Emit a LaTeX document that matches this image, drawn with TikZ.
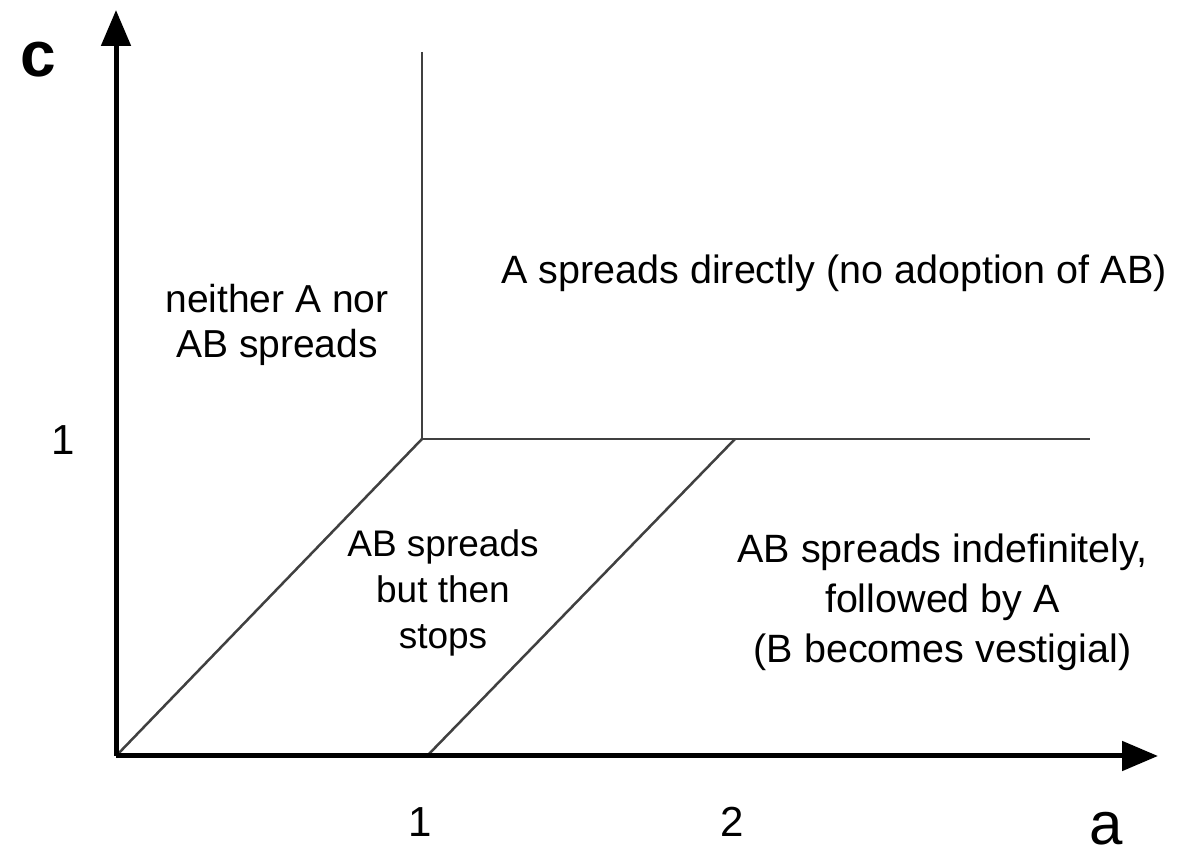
\documentclass[tikz,border=0pt]{standalone}
\usepackage{fontspec}
\setmainfont{Liberation Sans}
\usetikzlibrary{arrows.meta}
\begin{document}
\begin{tikzpicture}[x=1pt,y=1pt,
  axis/.style={line width=5pt,-{Triangle[length=36pt,width=29pt]}},
  region/.style={line width=2.5pt,black!75},
  lbl/.style={inner sep=0pt,align=center},
  tick/.style={inner sep=0pt,anchor=base,font=\fontsize{42}{50}\selectfont}]
\useasboundingbox (0,0) rectangle (1178,858);
\coordinate (O) at (116,102);
\coordinate (ytip) at (116,848);
\coordinate (xtip) at (1158,102);
\coordinate (P) at (422,419);
\coordinate (Ptop) at (422,806);
\coordinate (Hend) at (1090,419);
\coordinate (B1) at (427,102);
\coordinate (T2) at (735,419);
% region boundaries
\draw[region] (Ptop) -- (P) -- (Hend);
\draw[region] (O) -- (P);
\draw[region] (B1) -- (T2);
% axes
\draw[axis] (O) -- (ytip);
\draw[axis] (O) -- (xtip);
% axis labels
\node[inner sep=0pt,anchor=base,font=\fontsize{64}{70}\selectfont\bfseries] (clab) at (38,781) {c};
\node[inner sep=0pt,anchor=base,font=\fontsize{60}{70}\selectfont] (alab) at (1106,13) {a};
\node[tick] (x1) at (420,21) {1};
\node[tick] (x2) at (732,21) {2};
\node[tick] (y1) at (63,403) {1};
% region labels
\node[lbl,font=\fontsize{39}{45}\selectfont] (neither) at (277,532.6) {neither A nor\\AB spreads};
\node[lbl,anchor=base,font=\fontsize{39.5}{46}\selectfont] (direct) at (834,574) {A spreads directly (no adoption of AB)};
\node[lbl,font=\fontsize{37}{46}\selectfont] (stops) at (443,265.1) {AB spreads\\but then\\stops};
\node[lbl,font=\fontsize{39.5}{50}\selectfont] (indef) at (942.5,255.8) {AB spreads indefinitely,\\followed by A\\(B becomes vestigial)};
\end{tikzpicture}
\end{document}
